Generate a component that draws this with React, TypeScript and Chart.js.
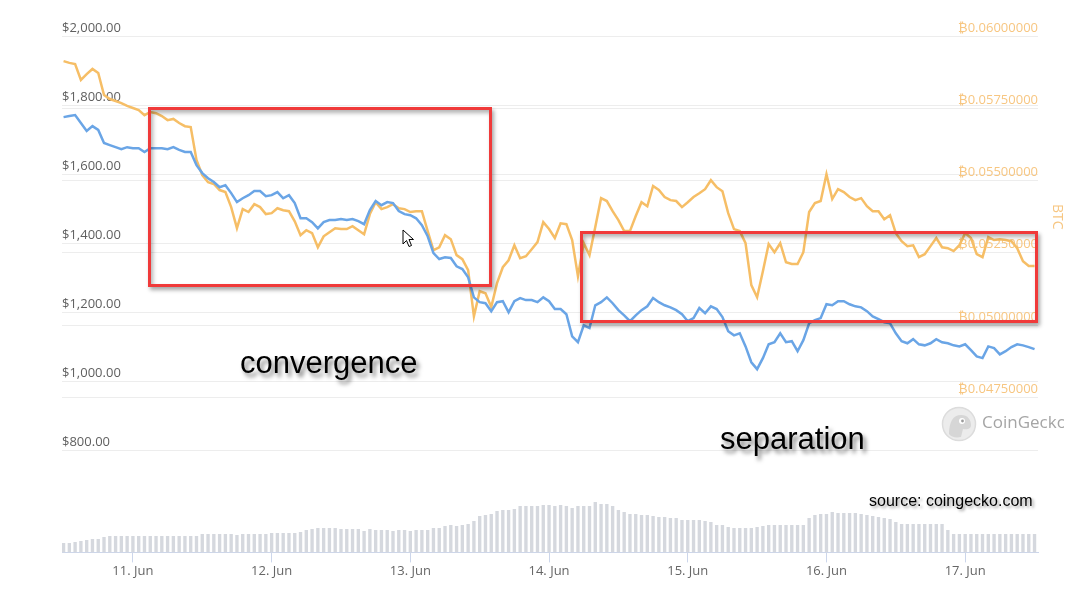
import { useEffect, useRef } from "react"
import { Chart, registerables } from "chart.js"

Chart.register(...registerables)

// hourly samples, first one at 10 Jun 12:00 (hour -12 from 11 Jun 00:00)
const START_HOUR = -12

const dayLabels = ["11. Jun", "12. Jun", "13. Jun", "14. Jun", "15. Jun", "16. Jun", "17. Jun"]
const usdTicks = [800, 1000, 1200, 1400, 1600, 1800, 2000]
const btcTicks = [0.0475, 0.05, 0.0525, 0.055, 0.0575, 0.06]

// ETH price in USD
const usdPrice = [
  1765, 1768, 1771, 1748, 1725, 1739, 1728, 1690, 1684, 1678,
  1672, 1678, 1675, 1675, 1664, 1675, 1675, 1675, 1672, 1678,
  1670, 1664, 1664, 1626, 1603, 1588, 1577, 1562, 1568, 1545,
  1519, 1530, 1539, 1551, 1551, 1536, 1539, 1548, 1530, 1539,
  1516, 1472, 1472, 1461, 1443, 1461, 1467, 1467, 1470, 1467,
  1470, 1464, 1455, 1496, 1522, 1510, 1519, 1516, 1493, 1484,
  1481, 1472, 1452, 1420, 1371, 1354, 1359, 1357, 1333, 1325,
  1301, 1243, 1229, 1226, 1203, 1229, 1232, 1200, 1232, 1241,
  1235, 1235, 1229, 1243, 1232, 1209, 1209, 1194, 1130, 1113,
  1162, 1154, 1220, 1229, 1243, 1226, 1206, 1191, 1174, 1191,
  1206, 1217, 1241, 1229, 1220, 1214, 1206, 1194, 1174, 1183,
  1212, 1197, 1217, 1209, 1186, 1145, 1133, 1139, 1101, 1055,
  1035, 1067, 1107, 1113, 1139, 1113, 1116, 1087, 1119, 1168,
  1177, 1183, 1223, 1220, 1232, 1232, 1223, 1217, 1214, 1203,
  1188, 1180, 1171, 1168, 1139, 1116, 1110, 1122, 1107, 1104,
  1110, 1122, 1113, 1110, 1104, 1101, 1107, 1090, 1072, 1067,
  1101, 1096, 1078, 1087, 1099, 1107, 1104, 1099, 1093,
]

// ETH price in BTC
const btcPrice = [
  0.05913, 0.05907, 0.05903, 0.05848, 0.05868, 0.05886, 0.05872, 0.05796, 0.05782, 0.05775,
  0.05768, 0.05758, 0.05751, 0.05744, 0.05726, 0.05737, 0.05733, 0.05723, 0.05709, 0.05713,
  0.05699, 0.05688, 0.05685, 0.05571, 0.05519, 0.05494, 0.05488, 0.05467, 0.0546, 0.05408,
  0.05335, 0.05401, 0.05391, 0.05418, 0.05408, 0.05384, 0.05387, 0.05404, 0.05397, 0.05394,
  0.05359, 0.05311, 0.05328, 0.05318, 0.05269, 0.05307, 0.05321, 0.05335, 0.05332, 0.05332,
  0.05342, 0.05328, 0.05314, 0.05384, 0.05425, 0.05401, 0.05408, 0.05418, 0.05404, 0.05401,
  0.05391, 0.05394, 0.05394, 0.05325, 0.05259, 0.05269, 0.05311, 0.05297, 0.05242, 0.05228,
  0.0519, 0.0503, 0.05117, 0.0511, 0.05062, 0.05145, 0.052, 0.05224, 0.05276, 0.05231,
  0.05238, 0.05262, 0.05287, 0.05356, 0.05332, 0.05301, 0.05352, 0.05349, 0.05294, 0.05169,
  0.05283, 0.05242, 0.05339, 0.05439, 0.05429, 0.05394, 0.05363, 0.05325, 0.05325, 0.05377,
  0.05425, 0.05411, 0.05481, 0.05467, 0.05443, 0.05432, 0.05429, 0.05408, 0.05425, 0.05443,
  0.05456, 0.0547, 0.05501, 0.05477, 0.05463, 0.05387, 0.05332, 0.05325, 0.05283, 0.05138,
  0.05096, 0.05186, 0.0528, 0.05252, 0.05283, 0.05217, 0.05211, 0.05211, 0.05252, 0.05391,
  0.05422, 0.05429, 0.05522, 0.05436, 0.0547, 0.0546, 0.05443, 0.05432, 0.05439, 0.05411,
  0.05394, 0.05394, 0.05366, 0.0538, 0.05318, 0.0529, 0.05273, 0.05276, 0.05235, 0.05245,
  0.05273, 0.05301, 0.05269, 0.05266, 0.05256, 0.05276, 0.05318, 0.05301, 0.05245, 0.05235,
  0.05304, 0.05294, 0.05297, 0.05294, 0.0529, 0.05266, 0.05221, 0.05204, 0.05204,
]

// 24h volume, billions USD
const volume = [
  5.4, 5.4, 6.0, 6.6, 7.2, 7.8, 7.8, 9.0, 9.6, 9.6,
  9.6, 9.6, 9.6, 9.6, 9.6, 9.6, 9.6, 9.6, 9.6, 9.6,
  9.6, 9.6, 9.6, 9.6, 10.8, 10.8, 10.8, 10.8, 10.8, 10.8,
  10.2, 10.8, 10.8, 10.8, 10.8, 10.8, 11.4, 11.4, 11.4, 11.4,
  11.4, 12.0, 13.2, 13.8, 14.4, 14.4, 14.4, 14.4, 13.8, 13.8,
  13.8, 13.8, 12.6, 13.8, 13.2, 13.2, 13.2, 12.6, 13.2, 13.2,
  12.6, 13.2, 13.2, 13.2, 14.4, 14.4, 15.6, 16.2, 15.6, 16.2,
  16.8, 18.6, 21.6, 22.2, 22.8, 24.6, 25.2, 25.2, 25.8, 27.6,
  27.6, 27.6, 27.6, 28.2, 28.2, 27.6, 28.2, 27.6, 26.4, 27.6,
  27.6, 27.6, 30.0, 28.8, 28.8, 27.6, 25.2, 24.0, 22.8, 22.8,
  22.2, 22.2, 21.6, 21.0, 21.0, 20.4, 20.4, 19.2, 19.2, 19.2,
  19.2, 18.6, 18.0, 16.2, 16.2, 15.0, 14.4, 14.4, 14.4, 14.4,
  15.0, 15.6, 16.2, 16.2, 16.2, 16.2, 16.2, 16.2, 16.2, 20.4,
  22.2, 22.8, 22.8, 24.0, 23.4, 23.4, 23.4, 23.4, 22.8, 22.2,
  21.6, 21.0, 20.4, 19.8, 18.0, 16.8, 16.8, 16.8, 16.8, 16.8,
  16.8, 16.8, 16.8, 13.2, 10.8, 10.8, 10.8, 10.8, 10.8, 10.8,
  10.8, 10.8, 10.8, 10.8, 10.8, 10.8, 10.8, 10.8, 10.8,
]

const toPoints = (values: number[]) => values.map((y, i) => ({ x: START_HOUR + i, y }))

function PriceChart() {
  const canvasRef = useRef<HTMLCanvasElement>(null)
  const chartRef = useRef<Chart | null>(null)

  useEffect(() => {
    if (!canvasRef.current) return
    if (chartRef.current) chartRef.current.destroy()
    const ctx = canvasRef.current.getContext("2d")
    if (!ctx) return

    Chart.defaults.font.family = "'Open Sans', sans-serif"

    chartRef.current = new Chart(ctx, {
      type: "line",
      data: {
        datasets: [
          {
            label: "USD",
            data: toPoints(usdPrice),
            yAxisID: "yUsd",
            borderColor: "#6aa5e6",
            borderWidth: 2.5,
            pointRadius: 0,
            tension: 0,
          },
          {
            label: "BTC",
            data: toPoints(btcPrice),
            yAxisID: "yBtc",
            borderColor: "#f6be66",
            borderWidth: 2.5,
            pointRadius: 0,
            tension: 0,
          },
          {
            type: "bar",
            label: "Volume",
            data: toPoints(volume),
            yAxisID: "yVol",
            backgroundColor: "#d5d8de",
            barThickness: 2.7,
          } as any,
        ],
      },
      options: {
        responsive: false,
        maintainAspectRatio: false,
        animation: false,
        layout: { padding: { left: 62, right: 38, top: 36, bottom: 13 } },
        plugins: {
          legend: { display: false },
          tooltip: { enabled: false },
        },
        scales: {
          x: {
            type: "linear",
            min: -12.27,
            max: 156.6,
            offset: false,
            afterBuildTicks: (axis: any) => {
              axis.ticks = dayLabels.map((_, i) => ({ value: i * 24 }))
            },
            grid: {
              offset: false,
              drawOnChartArea: false,
              drawTicks: true,
              tickLength: 10,
              color: "#ccd6eb",
            },
            border: { display: true, color: "#ccd6eb" },
            ticks: {
              padding: 1,
              color: "#666666",
              font: { size: 13 },
              maxRotation: 0,
              callback: (v: any) => dayLabels[Math.round(Number(v) / 24)] ?? "",
            },
          },
          yUsd: {
            type: "linear",
            position: "left",
            min: 504.3,
            max: 2000,
            afterBuildTicks: (axis: any) => {
              axis.ticks = usdTicks.map((value) => ({ value }))
            },
            grid: { color: "#ededed", drawTicks: false },
            border: { display: false },
            ticks: {
              mirror: true,
              padding: 0,
              labelOffset: -8,
              color: "#5f5f5f",
              font: { size: 13 },
              callback: (v: any) =>
                "$" + Number(v).toLocaleString("en-US", { minimumFractionDigits: 2, maximumFractionDigits: 2 }),
            },
          },
          yBtc: {
            type: "linear",
            position: "right",
            min: 0.042133,
            max: 0.06,
            afterBuildTicks: (axis: any) => {
              axis.ticks = btcTicks.map((value) => ({ value }))
            },
            grid: { color: "#ededed", drawTicks: false },
            border: { display: false },
            ticks: {
              mirror: true,
              padding: 0,
              labelOffset: -8,
              color: "#f7c681",
              font: { size: 13 },
              callback: (v: any) => "\u20BF" + Number(v).toFixed(8),
            },
          },
          yVol: {
            type: "linear",
            display: false,
            min: 0,
            max: 309.6,
          },
        },
      },
    })

    return () => {
      if (chartRef.current) {
        chartRef.current.destroy()
        chartRef.current = null
      }
    }
  }, [])

  return <canvas ref={canvasRef} width={1076} height={593} style={{ display: "block" }} />
}

const redBox = (left: number, top: number, width: number, height: number) => ({
  position: "absolute" as const,
  left,
  top,
  width,
  height,
  boxSizing: "border-box" as const,
  border: "3px solid #f03a3a",
  boxShadow: "2px 3px 4px rgba(0,0,0,0.35), inset 2px 3px 4px rgba(0,0,0,0.3)",
})

const bigText = {
  position: "absolute" as const,
  fontFamily: "'Liberation Sans', Arial, sans-serif",
  fontSize: 31,
  lineHeight: "31px",
  color: "#000",
  textShadow: "3px 4px 4px rgba(0,0,0,0.5)",
  whiteSpace: "nowrap" as const,
}

export default function App() {
  return (
    <div
      style={{
        position: "fixed",
        left: 0,
        top: 0,
        width: 1076,
        height: 593,
        overflow: "hidden",
        background: "#ffffff",
      }}
    >
      <PriceChart />

      {/* axis title of the BTC scale */}
      <div
        style={{
          position: "absolute",
          left: 1049,
          top: 204,
          writingMode: "vertical-rl",
          fontFamily: "'Open Sans', sans-serif",
          fontSize: 14,
          color: "#f7c681",
        }}
      >
        BTC
      </div>

      {/* CoinGecko watermark */}
      <div style={{ position: "absolute", left: 941, top: 406, width: 123, height: 36, overflow: "hidden" }}>
        <svg width={36} height={36} style={{ position: "absolute", left: 0, top: 0 }}>
          <circle cx={18} cy={18} r={16.5} fill="#ececec" stroke="#dcdcdc" strokeWidth={1.5} />
          <path d="M8 28 C8 16 12 9 20 9 C27 9 30 14 30 19 C30 23 26 24 22 23 L20 31 C15 32 10 31 8 28 Z" fill="#d6d6d6" />
          <circle cx={21} cy={15} r={3} fill="#ffffff" />
          <circle cx={21.5} cy={15} r={1.4} fill="#9a9a9a" />
        </svg>
        <div
          style={{
            position: "absolute",
            left: 41,
            top: 5,
            fontFamily: "'Open Sans', sans-serif",
            fontSize: 17,
            lineHeight: "22px",
            color: "#a5a5a5",
            whiteSpace: "nowrap",
          }}
        >
          CoinGecko
        </div>
      </div>

      <div style={redBox(148, 107, 344, 180)} />
      <div style={redBox(580, 231, 458, 92)} />

      <div style={{ ...bigText, left: 240, top: 347 }}>convergence</div>
      <div style={{ ...bigText, left: 720, top: 423 }}>separation</div>
      <div
        style={{
          ...bigText,
          left: 869,
          top: 493,
          fontSize: 16,
          lineHeight: "16px",
          textShadow: "2px 2px 3px rgba(0,0,0,0.4)",
        }}
      >
        source: coingecko.com
      </div>

      {/* mouse pointer left in the screenshot */}
      <svg width={14} height={20} style={{ position: "absolute", left: 402, top: 229 }}>
        <path d="M1 1 L1 15 L4.5 11.5 L7 17.5 L9.5 16.5 L7 10.5 L11.5 10.5 Z" fill="#ffffff" stroke="#000000" strokeWidth={1} strokeLinejoin="round" />
      </svg>
    </div>
  )
}
